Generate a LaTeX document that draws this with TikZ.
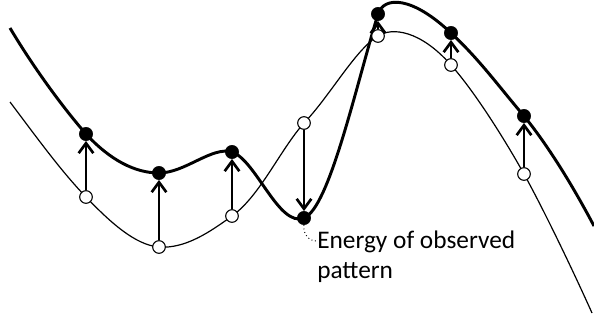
\documentclass[tikz,border=0pt]{standalone}
\usepackage{fontspec}
\setmainfont{Carlito}
\usetikzlibrary{arrows.meta,positioning,calc}
\tikzset{
  fulldot/.style={
    circle,
    draw=black,
    fill=black,
    minimum size=10pt,
    inner sep=0pt
  },
  opendot/.style={
    circle,
    draw=black,
    line width=0.8pt,
    fill=white,
    minimum size=9.5pt,
    inner sep=0pt
  },
  learned/.style={line width=2.2pt, black},
  observed/.style={line width=0.9pt, black},
  lift/.style={-{Straight Barb[length=7.5pt,width=11pt,line width=2pt]}, line width=2.2pt, black},
  note/.style={font=\fontsize{19}{22.5}\selectfont, align=left, inner sep=0pt}
}

\begin{document}
\begin{tikzpicture}[x=0.75pt,y=-0.75pt]
\useasboundingbox (0,0) rectangle (594,332);
% positions of the samples
\coordinate (pf1) at (86,134);  \coordinate (po1) at (86,197);
\coordinate (pf2) at (159,173); \coordinate (po2) at (159,247);
\coordinate (pf3) at (232,152); \coordinate (po3) at (232,216);
\coordinate (pf4) at (304,218); \coordinate (po4) at (304,123);
\coordinate (pf5) at (378,14);  \coordinate (po5) at (378,36);
\coordinate (pf6) at (451,33);  \coordinate (po6) at (451,65);
\coordinate (pf7) at (524,116); \coordinate (po7) at (524,174);
% curves
\draw[observed] (10,102) .. controls (35,135) and (60,170) .. (po1)
  .. controls (110,222) and (135,245) .. (po2)
  .. controls (185,249) and (210,232) .. (po3)
  .. controls (260,196) and (280,150) .. (po4)
  .. controls (330,96) and (355,50) .. (po5)
  .. controls (392,27) and (420,30) .. (po6)
  .. controls (475,92) and (505,140) .. (po7)
  .. controls (545,212) and (575,275) .. (592,313);
\draw[learned] (10,28) .. controls (35,70) and (65,110) .. (pf1)
  .. controls (110,160) and (135,173) .. (pf2)
  .. controls (185,173) and (212,146) .. (pf3)
  .. controls (256,160) and (279,228) .. (pf4)
  .. controls (329,208) and (355,90) .. (pf5)
  .. controls (384,-4) and (412,-4) .. (pf6)
  .. controls (480,60) and (500,88) .. (pf7)
  .. controls (550,148) and (575,190) .. (594,226);
% dots
\foreach \i in {1,...,7} {
  \node[opendot] (o\i) at (po\i) {};
  \node[fulldot] (f\i) at (pf\i) {};
}
\foreach \i in {1,...,7} {
  \draw[lift] (o\i) -- (f\i);
}
\node[note, anchor=north west] (energy) at (317,231) {Energy of observed\\pattern};
\draw[dotted, line width=0.7pt] (f4.south) to[out=-100,in=180] ($(energy.north west)+(-1,10)$);
\end{tikzpicture}
\end{document}
